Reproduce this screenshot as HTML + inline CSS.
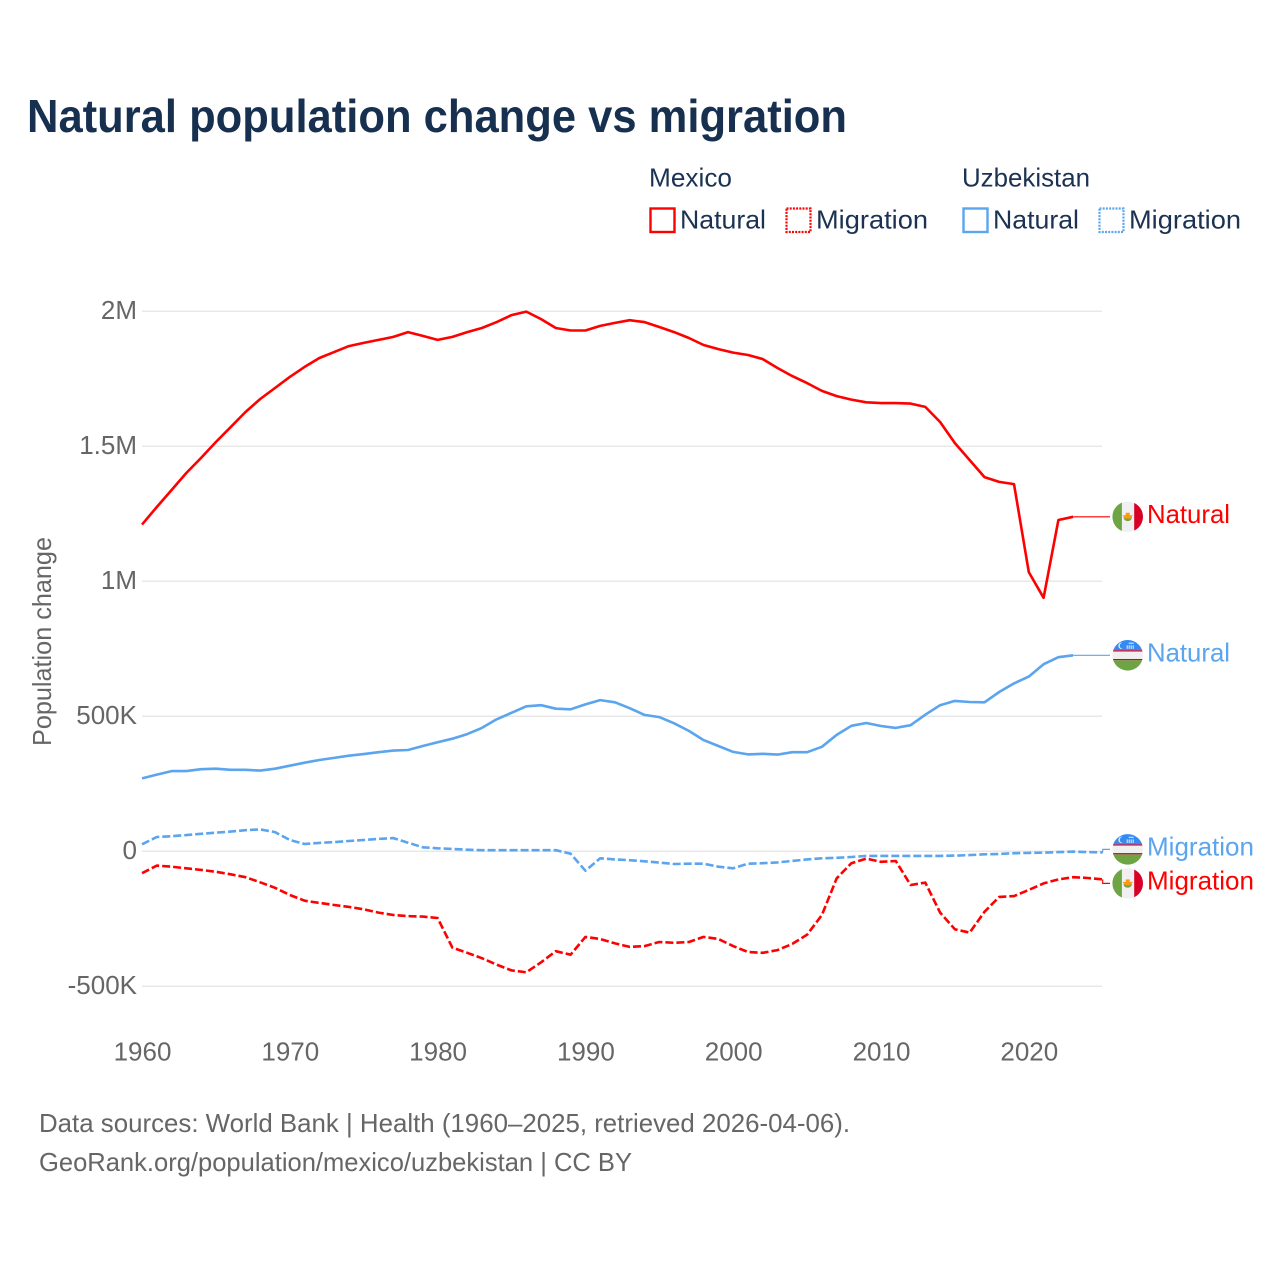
<!DOCTYPE html>
<html lang="en">
<head>
<meta charset="utf-8">
<title>Natural population change vs migration</title>
<style>
html,body{margin:0;padding:0;background:#fff;}
svg{display:block;}
text{font-family:"Liberation Sans",sans-serif;}
.leg{font-size:26px;fill:#1b3252;}
.tick{font-size:26px;fill:#666;}
.foot{font-size:26px;fill:#666;}
</style>
</head>
<body>
<svg id="chart" xmlns="http://www.w3.org/2000/svg" width="1280" height="1280" viewBox="0 0 1280 1280">
  <rect x="0" y="0" width="1280" height="1280" fill="#fff"/>
  <text x="27" y="132" font-size="46" font-weight="700" fill="#17304f" textLength="820" lengthAdjust="spacingAndGlyphs">Natural population change vs migration</text>

  <g>
    <text class="leg" x="649" y="186.5" textLength="83" lengthAdjust="spacingAndGlyphs">Mexico</text>
    <text class="leg" x="962" y="186.5" textLength="128" lengthAdjust="spacingAndGlyphs">Uzbekistan</text>
    <rect x="650.5" y="208.5" width="24" height="23.5" fill="none" stroke="#ff0000" stroke-width="2.4"/>
    <text class="leg" x="680" y="228.5" textLength="86" lengthAdjust="spacingAndGlyphs">Natural</text>
    <rect x="786.5" y="208.5" width="24" height="23.5" fill="none" stroke="#ff0000" stroke-width="2.2" stroke-dasharray="2 1.2"/>
    <text class="leg" x="816" y="228.5" textLength="112" lengthAdjust="spacingAndGlyphs">Migration</text>
    <rect x="963.5" y="208.5" width="24" height="23.5" fill="none" stroke="#5ba4ee" stroke-width="2.4"/>
    <text class="leg" x="993" y="228.5" textLength="86" lengthAdjust="spacingAndGlyphs">Natural</text>
    <rect x="1099.5" y="208.5" width="24" height="23.5" fill="none" stroke="#5ba4ee" stroke-width="2.2" stroke-dasharray="2 1.2"/>
    <text class="leg" x="1129" y="228.5" textLength="112" lengthAdjust="spacingAndGlyphs">Migration</text>
  </g>

  <text class="tick" transform="translate(51,641.5) rotate(-90)" text-anchor="middle" textLength="209" lengthAdjust="spacingAndGlyphs">Population change</text>

  <g id="grid"></g>
  <g id="yticks"></g>
  <g id="xticks"></g>
  <g id="series"></g>
  <g id="labels"></g>

  <text class="foot" x="39" y="1132" textLength="811" lengthAdjust="spacingAndGlyphs">Data sources: World Bank | Health (1960–2025, retrieved 2026-04-06).</text>
  <text class="foot" x="39" y="1171" textLength="593" lengthAdjust="spacingAndGlyphs">GeoRank.org/population/mexico/uzbekistan | CC BY</text>
</svg>
<script>
// Values in thousands of people; years start at 1960.
var startYear = 1960;
var yTickValues = [2000, 1500, 1000, 500, 0, -500];
var yTickLabels = ["2M", "1.5M", "1M", "500K", "0", "-500K"];
var xTickYears = [1960, 1970, 1980, 1990, 2000, 2010, 2020];
var mexicoNatural = [
  1210,1275,1338,1401,1457,1516,1571,1627,1675,1716,
  1757,1794,1827,1849,1871,1883,1894,1905,1923,1909,
  1894,1905,1923,1938,1960,1986,1999,1971,1938,1929,
  1929,1946,1957,1967,1960,1942,1923,1901,1875,1860,
  1847,1838,1823,1790,1760,1734,1705,1686,1673,1663,
  1660,1660,1658,1646,1590,1512,1449,1386,1368,1360,
  1034,939,1227,1239];
var mexicoMigration = [
  -81,-53,-57,-63,-69,-76,-85,-96,-115,-135,
  -162,-183,-191,-199,-206,-215,-227,-236,-240,-242,
  -247,-357,-376,-396,-420,-441,-448,-411,-370,-383,
  -317,-325,-341,-354,-351,-336,-339,-336,-317,-325,
  -351,-373,-376,-366,-343,-309,-236,-100,-44,-27,
  -39,-36,-125,-116,-227,-289,-301,-224,-169,-166,
  -143,-119,-104,-96,-99,-104];
var uzbekistanNatural = [
  270,284,297,297,304,306,302,302,299,306,
  317,328,338,346,354,360,367,373,375,390,
  404,417,434,457,489,513,537,541,528,526,
  544,560,552,530,505,497,474,446,412,390,
  368,359,361,358,367,367,387,431,465,475,
  464,457,467,506,541,557,553,552,590,622,
  647,693,719,726];
var uzbekistanMigration = [
  26,53,56,60,65,69,73,78,81,71,
  42,27,31,34,38,42,46,49,32,15,
  11,9,6,4,4,4,4,4,4,-9,
  -72,-26,-30,-33,-37,-42,-47,-46,-46,-57,
  -63,-46,-44,-41,-36,-30,-26,-24,-21,-17,
  -17,-17,-17,-17,-17,-16,-14,-11,-10,-7,
  -6,-5,-3,-1,-3,-4];

var NS = "http://www.w3.org/2000/svg";
var X0 = 142, PX_YEAR = 14.78, Y0 = 851.3, PX_K = 0.27, GRID_END = 1102;
var RED = "#ff0000", BLUE = "#5ba4ee";
function xScale(year){ return X0 + (year - startYear) * PX_YEAR; }
function yScale(v){ return Y0 - v * PX_K; }
function mk(tag, attrs, parent){
  var e = document.createElementNS(NS, tag);
  for (var k in attrs) e.setAttribute(k, attrs[k]);
  if (parent) parent.appendChild(e);
  return e;
}
var grid = document.getElementById("grid");
var yticks = document.getElementById("yticks");
var xticks = document.getElementById("xticks");
var seriesG = document.getElementById("series");
var labelsG = document.getElementById("labels");

yTickValues.forEach(function(v, i){
  var y = yScale(v);
  var line = mk("line", {x1: X0, x2: GRID_END, y1: y, y2: y, stroke: "#e8e8e8", "stroke-width": 1.5}, grid);
  
  
  var t = mk("text", {x: 137, y: y + 7.8, "text-anchor": "end", "class": "tick"}, yticks);
  
  
  t.textContent = yTickLabels[i];
});
xTickYears.forEach(function(yr){
  var t = mk("text", {x: xScale(yr) + 0.5, y: 1060.5, "text-anchor": "middle", "class": "tick"}, xticks);
  
  
  t.textContent = yr;
});

function drawSeries(values, color, dashed, name){
  var pts = values.map(function(v, i){ return xScale(startYear + i).toFixed(1) + "," + yScale(v).toFixed(1); });
  var attrs = {points: pts.join(" "), fill: "none", stroke: color, "stroke-width": 2.6, "stroke-linejoin": "round"};
  if (dashed) attrs["stroke-dasharray"] = "8 3";
  var p = mk("polyline", attrs, seriesG);
  
  
}
drawSeries(mexicoNatural, RED, false, "line-mexico-natural");
drawSeries(uzbekistanNatural, BLUE, false, "line-uzbekistan-natural");
drawSeries(mexicoMigration, RED, true, "line-mexico-migration");
drawSeries(uzbekistanMigration, BLUE, true, "line-uzbekistan-migration");

var clipCount = 0;
function flagClip(g, cx, cy){
  clipCount++;
  var id = "flag-clip-" + clipCount;
  var cp = mk("clipPath", {id: id}, g);
  mk("circle", {cx: cx, cy: cy, r: 15.3}, cp);
  return mk("g", {"clip-path": "url(#" + id + ")"}, g);
}
function drawMexicoFlag(cx, cy, name){
  var g = mk("g", {}, labelsG);
  
  
  var c = flagClip(g, cx, cy);
  mk("rect", {x: cx - 16, y: cy - 16, width: 32, height: 32, fill: "#f0f0f0"}, c);
  mk("rect", {x: cx - 16, y: cy - 16, width: 10.2, height: 32, fill: "#6da544"}, c);
  mk("rect", {x: cx + 6.5, y: cy - 16, width: 10, height: 32, fill: "#d80027"}, c);
  mk("path", {d: "M" + (cx - 4.2) + " " + (cy + 0.5) + "a4.2 3.8 0 0 0 8.4 0z", fill: "#6da544"}, c);
  mk("path", {d: "M" + (cx - 5.2) + " " + (cy - 1.5) + "h10.4l-2.6 3.4h-5.2z M" + (cx - 2) + " " + (cy - 4) + "h4v2.6h-4z", fill: "#ff9811"}, c);
}
function drawUzbekFlag(cx, cy, name){
  var g = mk("g", {}, labelsG);
  
  
  var c = flagClip(g, cx, cy);
  mk("rect", {x: cx - 16, y: cy - 16, width: 32, height: 11, fill: "#338af3"}, c);
  mk("rect", {x: cx - 16, y: cy - 5, width: 32, height: 1.3, fill: "#d80027"}, c);
  mk("rect", {x: cx - 16, y: cy - 3.7, width: 32, height: 7.4, fill: "#f0f0f0"}, c);
  mk("rect", {x: cx - 16, y: cy + 3.7, width: 32, height: 1.3, fill: "#d80027"}, c);
  mk("rect", {x: cx - 16, y: cy + 5, width: 32, height: 11, fill: "#6da544"}, c);
  mk("path", {d: "M" + (cx - 5) + " " + (cy - 12.5) + "a3.2 3.2 0 1 0 0 6a3 3 0 1 1 0 -6z", fill: "#f0f0f0"}, c);
  [0, 2, 4, 6].forEach(function(dx){
    mk("rect", {x: cx - 1 + dx, y: cy - 10, width: 1, height: 3.6, fill: "#f0f0f0"}, c);
  });
  mk("rect", {x: cx + 1, y: cy - 12.6, width: 5, height: 1, fill: "#f0f0f0"}, c);
}
function drawEndLabel(values, color, text, offset, flagFn, flagName, connName, textName){
  var lastI = values.length - 1;
  var lx = xScale(startYear + lastI), ly = yScale(values[lastI]);
  var ty = ly + offset;
  var conn = mk("polyline", {points: lx.toFixed(1) + "," + ly.toFixed(1) + " " + lx.toFixed(1) + "," + ty.toFixed(1) + " 1110," + ty.toFixed(1), fill: "none", stroke: color, "stroke-width": 1.2}, labelsG);
  
  
  flagFn(1127.7, ty, flagName);
  var t = mk("text", {x: 1147, y: ty + 6, "font-size": 26, fill: color, textLength: text === "Natural" ? 83 : 107, lengthAdjust: "spacingAndGlyphs"}, labelsG);
  
  
  t.textContent = text;
}
drawEndLabel(mexicoNatural, RED, "Natural", 0, drawMexicoFlag, "flag-mexico-natural", "connector-mexico-natural", "label-mexico-natural");
drawEndLabel(uzbekistanNatural, BLUE, "Natural", 0, drawUzbekFlag, "flag-uzbekistan-natural", "connector-uzbekistan-natural", "label-uzbekistan-natural");
drawEndLabel(uzbekistanMigration, BLUE, "Migration", -3, drawUzbekFlag, "flag-uzbekistan-migration", "connector-uzbekistan-migration", "label-uzbekistan-migration");
drawEndLabel(mexicoMigration, RED, "Migration", 4, drawMexicoFlag, "flag-mexico-migration", "connector-mexico-migration", "label-mexico-migration");
</script>
</body>
</html>
